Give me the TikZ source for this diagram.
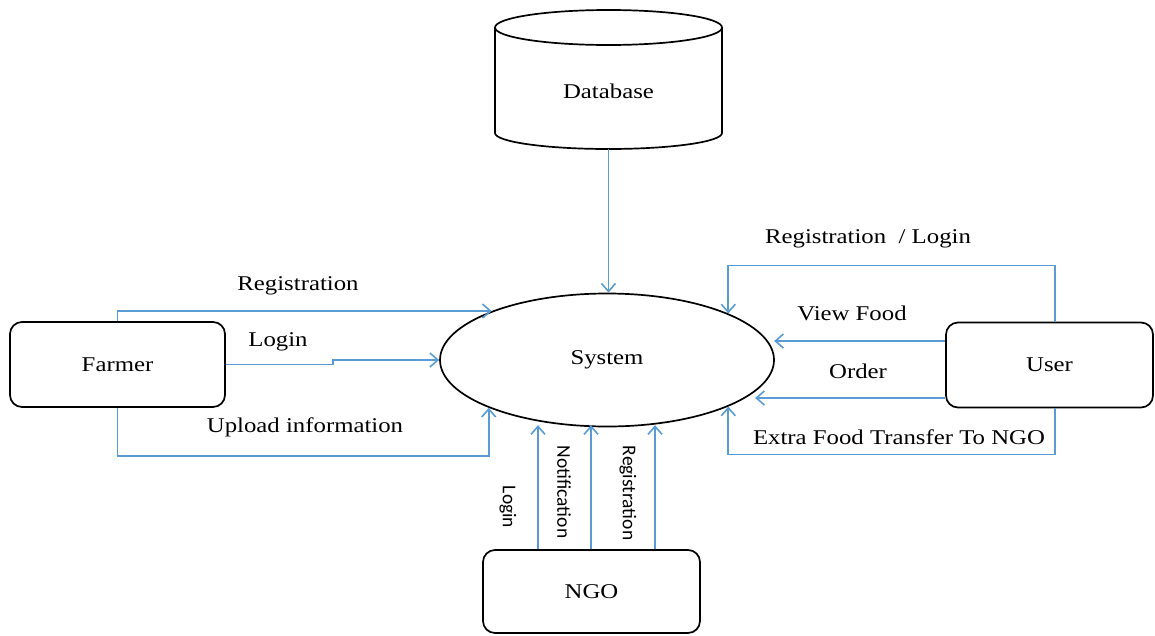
\documentclass[tikz,border=0pt]{standalone}
\usepackage{fontspec}
\setmainfont[FakeStretch=1.18]{Liberation Serif}
\newfontfamily\sidefont{Carlito}
\usetikzlibrary{arrows.meta,shapes.geometric}
\definecolor{flowblue}{RGB}{91,155,213}

\begin{document}
\begin{tikzpicture}[x=1pt,y=-1pt,
  box/.style={draw,line width=1.7pt,rounded corners=12pt,minimum width=215pt,minimum height=85pt,font=\fontsize{21}{25}\selectfont},
  flow/.style={flowblue,line width=1.6pt,-{Straight Barb[length=8pt,width=14pt]}},
  lbl/.style={font=\fontsize{21}{25}\selectfont},
  vlbl/.style={font=\sidefont\fontsize{19.5}{23}\selectfont,rotate=-90}]
\useasboundingbox (0,0) rectangle (1155,635);
% database drum
\draw[line width=1.7pt] (608.5,27.5) ellipse [x radius=113.5pt,y radius=17.5pt];
\draw[line width=1.7pt] (495,27.5) -- (495,133) arc[start angle=180,end angle=360,x radius=113.5pt,y radius=16pt] -- (722,27.5);
\node[lbl] (db) at (608.5,91) {Database};
\coordinate (dbbase) at (608.5,149);

\node[ellipse,draw,line width=1.7pt,minimum width=334pt,minimum height=133pt,lbl] (sys) at (607,360) {System};
\node[box] (farmer) at (117.5,364.5) {Farmer};
\node[box,minimum width=207pt] (user) at (1049.5,365) {User};
\node[box,minimum width=217pt,minimum height=83pt] (ngo) at (591.5,591.5) {NGO};

\draw[flow] (dbbase) -- (dbbase |- sys.north);
% farmer side
\draw[flow] (farmer.north) |- (sys.157);
\draw[flow] (farmer.east) -- ++(107,0) |- (sys.west);
\draw[flow] (farmer.south) -- ++(0,48) -| (sys.202);
\node[lbl] (tfreg) at (298,286) {Registration};
\node[lbl] (tflog) at (278,342) {Login};
\node[lbl] (tfup) at (305,427) {Upload information};
% user side
\draw[flow] ([xshift=5.5pt]user.north) -- ++(0,-56) -| (sys.21);
\draw[flow] ([yshift=24pt]user.west) -- ++(-171,0);
\draw[flow] ([yshift=-33pt]user.west) -- ++(-190,0);
\draw[flow] ([xshift=5.5pt]user.south) -- ++(0,46) -| (sys.339);
\node[lbl] (tureg) at (868,239) {Registration\ \ / Login};
\node[lbl] (tuview) at (852,313) {View Food};
\node[lbl] (tuord) at (858,371) {Order};
\node[lbl] (tuext) at (899,437) {Extra Food Transfer To NGO};
% ngo side
\foreach \dx in {-53.5,-0.5,63.5}
  \draw[flow] ([xshift=\dx pt]ngo.north) -- ++(0,-124);
\node[vlbl] (tnlog) at (508,507) {Login};
\node[vlbl] (tnnot) at (564,492) {Notification};
\node[vlbl] (tnreg) at (628,493) {Registration};
\end{tikzpicture}
\end{document}
